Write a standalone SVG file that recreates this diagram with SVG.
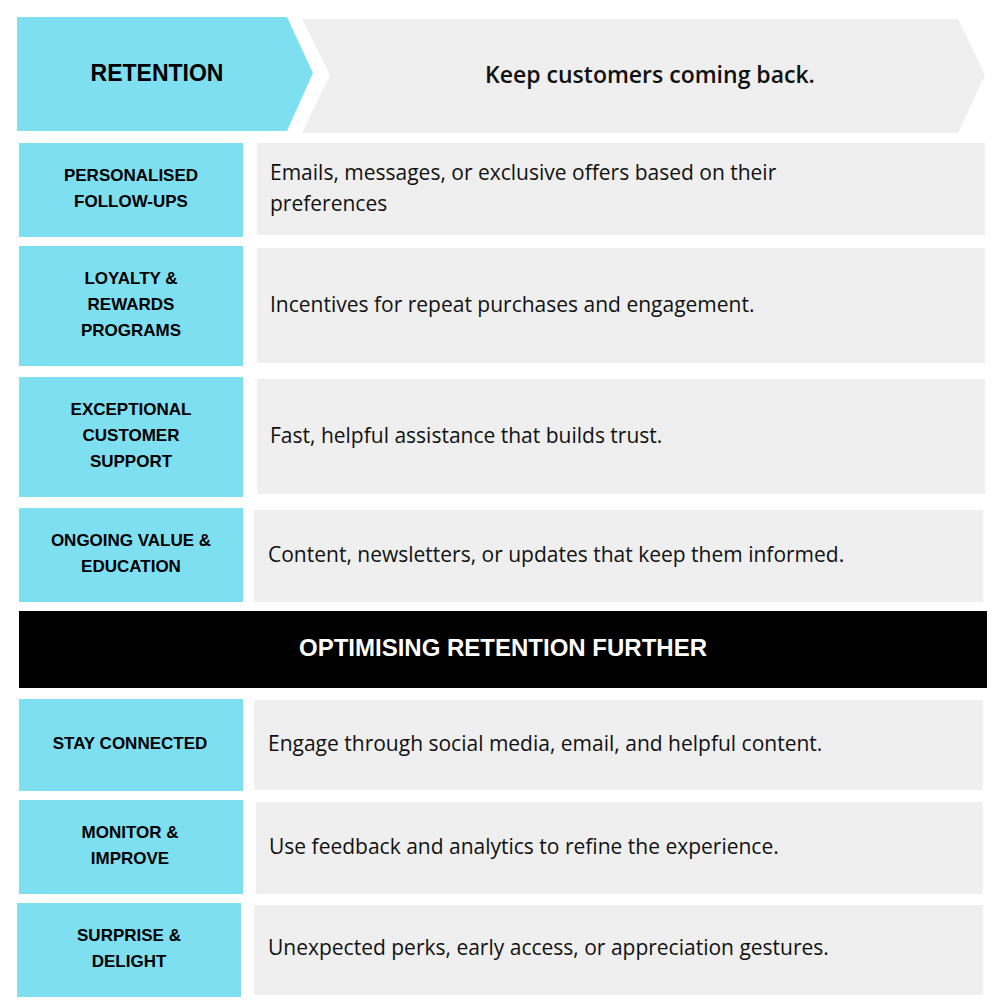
<svg xmlns="http://www.w3.org/2000/svg" width="1000" height="1000" viewBox="0 0 1000 1000">
<style>
.c{fill:#7edff0}.g{fill:#efefef}
.l{font-family:"Liberation Sans",Arial,sans-serif;font-weight:bold;font-size:17px;fill:#000;text-anchor:middle}
.t{font-family:"Open Sans",sans-serif;font-size:21px;fill:#111}
</style>
<rect width="1000" height="1000" fill="#fff"/>
<g id="header">
<polygon class="c" points="17,17 287,17 313,73 287,131 17,131"/>
<polygon class="g" points="302,19 958,19 985,75 958,133 302,133 330,75"/>
<text x="157" y="81" class="l" style="font-size:23px;font-weight:900">RETENTION</text>
<text x="650" y="83" class="t" style="font-size:23px;font-weight:600;text-anchor:middle">Keep customers coming back.</text>
</g>
<g id="r1"><rect class="c" x="19" y="143" width="224" height="94"/><rect class="g" x="257" y="143" width="728" height="92"/>
<text class="l" x="131" y="181">PERSONALISED</text><text class="l" x="131" y="207">FOLLOW-UPS</text>
<text class="t" x="270" y="180">Emails, messages, or exclusive offers based on their</text><text class="t" x="270" y="211">preferences</text></g>
<g id="r2"><rect class="c" x="19" y="246" width="224" height="120"/><rect class="g" x="257" y="248" width="728" height="115"/>
<text class="l" x="131" y="284">LOYALTY &amp;</text><text class="l" x="131" y="310">REWARDS</text><text class="l" x="131" y="336">PROGRAMS</text>
<text class="t" x="270" y="312">Incentives for repeat purchases and engagement.</text></g>
<g id="r3"><rect class="c" x="19" y="377" width="224" height="120"/><rect class="g" x="257" y="379" width="728" height="115"/>
<text class="l" x="131" y="415">EXCEPTIONAL</text><text class="l" x="131" y="441">CUSTOMER</text><text class="l" x="131" y="467">SUPPORT</text>
<text class="t" x="270" y="443">Fast, helpful assistance that builds trust.</text></g>
<g id="r4"><rect class="c" x="19" y="508" width="224" height="94"/><rect class="g" x="254" y="510" width="729" height="92"/>
<text class="l" x="131" y="546">ONGOING VALUE &amp;</text><text class="l" x="131" y="572">EDUCATION</text>
<text class="t" x="268" y="562">Content, newsletters, or updates that keep them informed.</text></g>
<g id="bar"><rect x="19" y="611" width="968" height="77" fill="#000"/>
<text x="503" y="656" class="l" style="fill:#fff;font-size:24px;font-weight:bold">OPTIMISING RETENTION FURTHER</text></g>
<g id="r5"><rect class="c" x="19" y="699" width="224" height="92"/><rect class="g" x="254" y="700" width="729" height="90"/>
<text class="l" x="130" y="749">STAY CONNECTED</text>
<text class="t" x="268" y="751">Engage through social media, email, and helpful content.</text></g>
<g id="r6"><rect class="c" x="19" y="800" width="224" height="94"/><rect class="g" x="256" y="802" width="727" height="92"/>
<text class="l" x="130" y="838">MONITOR &amp;</text><text class="l" x="130" y="864">IMPROVE</text>
<text class="t" x="269" y="854">Use feedback and analytics to refine the experience.</text></g>
<g id="r7"><rect class="c" x="17" y="903" width="224" height="94"/><rect class="g" x="254" y="905" width="729" height="90"/>
<text class="l" x="129" y="941">SURPRISE &amp;</text><text class="l" x="129" y="967">DELIGHT</text>
<text class="t" x="268" y="955">Unexpected perks, early access, or appreciation gestures.</text></g>
<g id="connectors"/>
</svg>
